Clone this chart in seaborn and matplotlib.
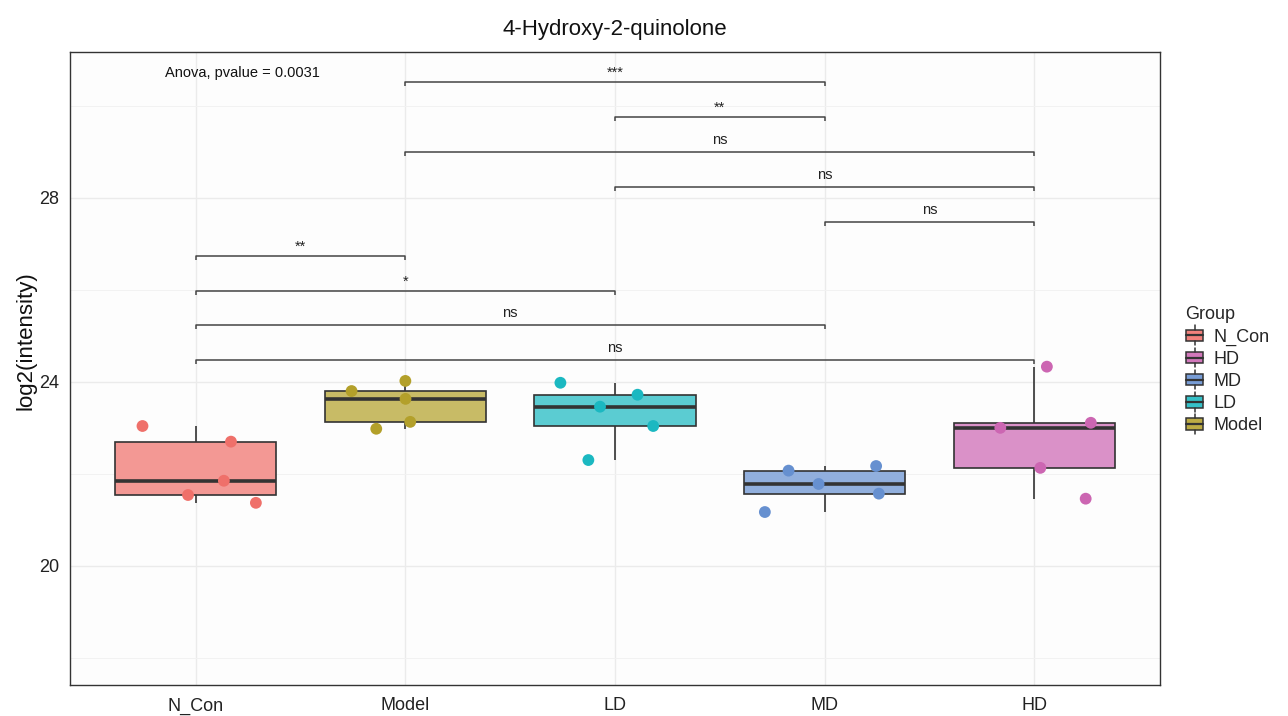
import numpy as np
import pandas as pd
import matplotlib
matplotlib.use("Agg")
import matplotlib.pyplot as plt
import matplotlib.colors as mcolors
from matplotlib.patches import Rectangle, Patch
from matplotlib.lines import Line2D
from matplotlib.legend_handler import HandlerBase
import seaborn as sns

# ---------------- data ----------------
groups = ["N_Con", "Model", "LD", "MD", "HD"]
n_con = [23.04, 22.70, 21.54, 21.85, 21.37]
model = [23.13, 23.63, 23.80, 22.98, 24.02]
ld = [23.72, 23.04, 23.46, 23.98, 22.30]
md = [22.17, 22.07, 21.78, 21.57, 21.17]
hd = [24.33, 23.11, 23.00, 22.13, 21.46]
legend_order = ["N_Con", "HD", "MD", "LD", "Model"]
group_colors = {"N_Con": "#EF706A", "Model": "#B3A02A", "LD": "#1BB8C1",
                "MD": "#6690D0", "HD": "#CC66B2"}

bracket_pairs = [("Model", "MD"), ("LD", "MD"), ("Model", "HD"), ("LD", "HD"),
                 ("MD", "HD"), ("N_Con", "Model"), ("N_Con", "LD"),
                 ("N_Con", "MD"), ("N_Con", "HD")]
bracket_y = [30.52, 29.76, 29.00, 28.24, 27.48, 26.74, 25.98, 25.24, 24.48]
bracket_labels = ["***", "**", "ns", "ns", "ns", "**", "*", "ns", "ns"]
anova_text = "Anova, pvalue = 0.0031"
title = "4-Hydroxy-2-quinolone"
y_ticks = [20, 24, 28]
y_minor = [18, 22, 26, 30]

df = pd.DataFrame({
    "Group": np.repeat(groups, 5),
    "value": n_con + model + ld + md + hd,
})

# ---------------- style ----------------
sns.set_style("white")
plt.rcParams["font.family"] = ["Liberation Sans", "DejaVu Sans"]

def lighten(c, a=0.7):
    r, g, b = mcolors.to_rgb(c)
    return (1 - a + a * r, 1 - a + a * g, 1 - a + a * b)

fill_colors = {k: lighten(v, 0.72) for k, v in group_colors.items()}

fig = plt.figure(figsize=(12.88, 7.16), dpi=100)
ax = fig.add_axes([70 / 1288, 1 - 685 / 716, (1160 - 70) / 1288, (685 - 52) / 716])
ax.set_facecolor("#FDFDFD")
fig.patch.set_facecolor("white")

edge = "#333333"
sns.boxplot(data=df, x="Group", y="value", hue="Group", order=groups,
            hue_order=groups, palette=fill_colors, legend=False, width=0.77,
            saturation=1, showcaps=False, showfliers=False, whis=1.5,
            linecolor=edge, linewidth=1.2,
            medianprops=dict(color=edge, linewidth=2.6),
            ax=ax, zorder=2)

np.random.seed(7)
sns.stripplot(data=df, x="Group", y="value", hue="Group", order=groups,
              hue_order=groups, palette=group_colors, legend=False,
              jitter=0.3, size=8.5, linewidth=0, ax=ax, zorder=3)

# axis limits / grid
ax.set_xlim(-0.6, 4.6)
ax.set_ylim(17.41, 31.17)
ax.set_yticks(y_ticks)
ax.set_yticks(y_minor, minor=True)
ax.grid(True, which="major", color="#EBEBEB", linewidth=1.0, zorder=0)
ax.grid(True, which="minor", axis="y", color="#F2F2F2", linewidth=0.7, zorder=0)
ax.set_axisbelow(True)
for s in ax.spines.values():
    s.set_color(edge)
    s.set_linewidth(1.0)
ax.tick_params(axis="both", which="major", direction="out", length=4,
               width=1.0, color=edge, labelsize=13, labelcolor="#222222")
ax.tick_params(axis="x", which="major", pad=5)
ax.tick_params(axis="y", which="minor", length=0)
ax.set_xlabel("")
ax.set_ylabel("log2(intensity)", fontsize=16, color="#111111")
ax.yaxis.set_label_coords(-34 / 1090, (685 - 341) / 633)

# brackets
pos = {g: i for i, g in enumerate(groups)}
tick = 0.09
for (a, b), yv, lab in zip(bracket_pairs, bracket_y, bracket_labels):
    x1, x2 = pos[a], pos[b]
    ax.plot([x1, x1, x2, x2], [yv - tick, yv, yv, yv - tick],
            color="#444444", linewidth=1.1, zorder=4, solid_capstyle="butt")
    if lab == "ns":
        ax.text((x1 + x2) / 2, yv + 0.1, lab, ha="center", va="bottom",
                fontsize=10.5, color="#222222")
    else:
        ax.text((x1 + x2) / 2, yv + 0.05, lab, ha="center", va="bottom",
                fontsize=10.5, color="#222222")

ax.text(-0.145, 30.72, anova_text, ha="left", va="center", fontsize=10.5,
        color="#111111")

fig.text((70 + 1160) / 2 / 1288, 1 - 29 / 716, title, ha="center",
         va="center", fontsize=16, color="#111111")

# legend with boxplot-like keys
class BoxKeyHandler(HandlerBase):
    def create_artists(self, legend, orig_handle, xdescent, ydescent,
                       width, height, fontsize, trans):
        fc = orig_handle.get_facecolor()
        x0, y0 = -xdescent, -ydescent
        bx, bw = x0 + width * 0.04, width * 0.92
        by, bh = y0 + height * 0.16, height * 0.68
        rect = Rectangle((bx, by), bw, bh, facecolor=fc, edgecolor=edge,
                         linewidth=1.1, transform=trans)
        xm = x0 + width / 2
        l1 = Line2D([xm, xm], [by + bh, y0 + height * 1.08], color=edge,
                    linewidth=1.1, transform=trans)
        l2 = Line2D([xm, xm], [y0 - height * 0.08, by], color=edge,
                    linewidth=1.1, transform=trans)
        med = Line2D([bx, bx + bw], [y0 + height / 2] * 2, color=edge,
                     linewidth=1.6, transform=trans)
        return [rect, l1, l2, med]

handles = [Patch(facecolor=lighten(group_colors[g], 0.88), label=g)
           for g in legend_order]
leg = fig.legend(handles=handles, labels=legend_order, title="Group",
                 loc="upper left", bbox_to_anchor=(1178 / 1288, 1 - 299 / 716),
                 frameon=False, fontsize=13, title_fontsize=13,
                 handler_map={Patch: BoxKeyHandler()}, handlelength=1.05,
                 handleheight=1.05, handletextpad=0.5, labelspacing=0.2,
                 borderaxespad=0)
leg._legend_box.align = "left"

fig.savefig("out.png", dpi=100)
